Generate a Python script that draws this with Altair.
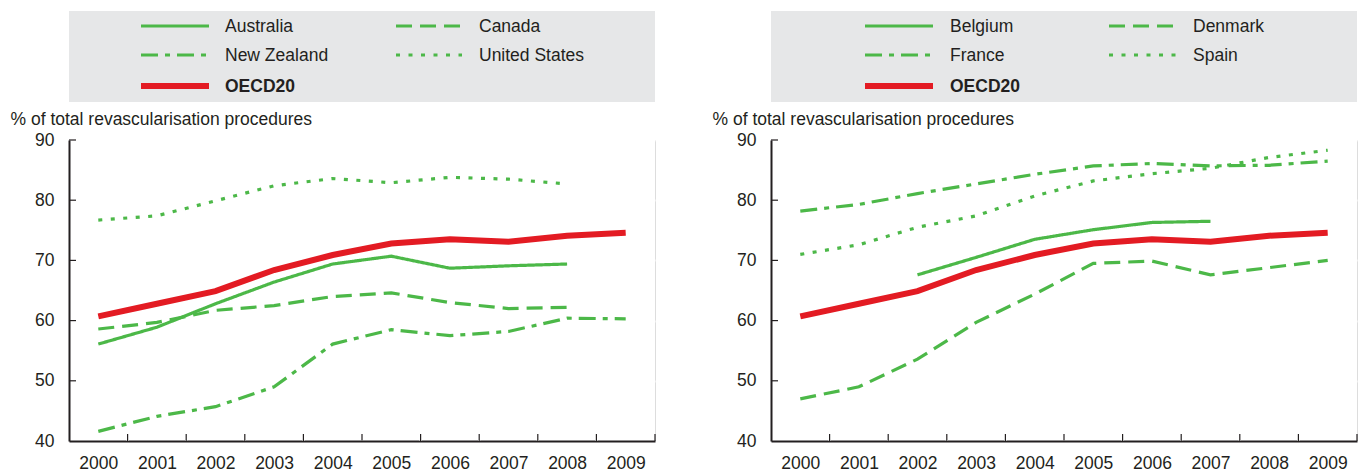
import altair as alt
import pandas as pd

years = [2000, 2001, 2002, 2003, 2004, 2005, 2006, 2007, 2008, 2009]

oecd20 = [60.7, 62.8, 64.9, 68.4, 70.9, 72.8, 73.5, 73.1, 74.1, 74.6]

# Left panel
australia = [56.1, 58.9, 62.8, 66.4, 69.4, 70.7, 68.7, 69.1, 69.4, None]
canada = [58.6, 59.7, 61.7, 62.5, 64.0, 64.6, 63.0, 62.0, 62.2, None]
new_zealand = [41.6, 44.1, 45.7, 49.0, 56.1, 58.5, 57.5, 58.2, 60.4, 60.3]
united_states = [76.7, 77.4, 79.9, 82.4, 83.6, 82.9, 83.8, 83.5, 82.7, None]

# Right panel
belgium = [None, None, 67.6, 70.5, 73.5, 75.1, 76.3, 76.5, None, None]
denmark = [47.0, 49.0, 53.6, 59.7, 64.4, 69.5, 69.9, 67.6, 68.8, 70.0]
france = [78.2, 79.3, 81.1, 82.7, 84.3, 85.7, 86.1, 85.7, 85.8, 86.5]
spain = [71.0, 72.6, 75.5, 77.4, 80.7, 83.2, 84.4, 85.3, 87.1, 88.3]

y_ticks = [40, 50, 60, 70, 80, 90]
boundaries = [2000.5, 2001.5, 2002.5, 2003.5, 2004.5, 2005.5, 2006.5, 2007.5, 2008.5, 2009.5]

GREEN = "#4cb848"
RED = "#e31b23"
BG = "#e6e7e8"
DARK = "#231f20"
FONT = "Liberation Sans"
FS = 17.5
W, H = 586, 301

STYLES = ["solid", "dashed", "dashdot", "dotted"]
DASH = {"solid": [1, 0], "dashed": [16, 8], "dashdot": [17, 7, 5, 7], "dotted": [4, 8.5]}

x_scale = alt.Scale(domain=[1999.5, 2009.5], nice=False, zero=False)
y_scale = alt.Scale(domain=[40, 90], nice=False, zero=False)
x_axis = alt.Axis(values=years, format="d", grid=False, ticks=False, title=None,
                  labelFontSize=FS, labelColor=DARK, labelPadding=13,
                  domainColor=DARK, domainWidth=2, labelFont=FONT)
y_axis = alt.Axis(values=y_ticks, grid=True, gridColor="white", gridWidth=2,
                  ticks=False, labelFontSize=FS, labelColor=DARK, labelPadding=15,
                  domainColor=DARK, domainWidth=2, labelFont=FONT,
                  title="% of total revascularisation procedures",
                  titleAngle=0, titleAlign="left", titleBaseline="alphabetic",
                  titleX=-59, titleY=-16, titleFontSize=FS, titleFontWeight="normal",
                  titleColor=DARK, titleFont=FONT)


def X(field):
    return alt.X(field, scale=x_scale, axis=x_axis)


def Y(field):
    return alt.Y(field, scale=y_scale, axis=y_axis)


def panel(series, leg_cols):
    names = [s[0] for s in series]
    rows = []
    for name, vals in series:
        for yr, v in zip(years, vals):
            if v is not None:
                rows.append({"series": name, "year": yr, "value": v})
    df = pd.DataFrame(rows)
    oecd_df = pd.DataFrame({"series": "OECD20", "year": years, "value": oecd20})

    layers = []
    # legend background
    layers.append(alt.Chart(pd.DataFrame({"a": [0]})).mark_rect(color=BG).encode(
        x=alt.value(0), x2=alt.value(W), y=alt.value(-129), y2=alt.value(-38)))
    # vertical grid at band boundaries
    layers.append(alt.Chart(pd.DataFrame({"year": boundaries[:-1]})).mark_rule(
        color="white", strokeWidth=2).encode(x=X("year:Q")))
    # inward x ticks
    layers.append(alt.Chart(pd.DataFrame({"year": boundaries})).mark_rule(
        color=DARK, strokeWidth=1.2).encode(x=X("year:Q"), y=alt.value(H), y2=alt.value(H - 7)))
    # inward y ticks
    layers.append(alt.Chart(pd.DataFrame({"value": y_ticks[1:]})).mark_rule(
        color=DARK, strokeWidth=1.2).encode(y=Y("value:Q"), x=alt.value(0), x2=alt.value(7)))
    # country lines
    layers.append(alt.Chart(df).mark_line(color=GREEN, strokeWidth=3.2).encode(
        x=X("year:Q"), y=Y("value:Q"),
        strokeDash=alt.StrokeDash("series:N", scale=alt.Scale(
            domain=names, range=[DASH[s] for s in STYLES]), legend=None),
        detail="series:N"))
    # OECD line
    layers.append(alt.Chart(oecd_df).mark_line(color=RED, strokeWidth=6).encode(
        x=X("year:Q"), y=Y("value:Q")))

    # manual legend
    row_y = [-114, -85, -54]
    entries = [(n, STYLES[i], GREEN, 3.2, "normal") for i, n in enumerate(names)]
    entries.append(("OECD20", "solid", RED, 6, "bold"))
    for i, (name, style, col, sw, fw) in enumerate(entries):
        c, r = i % 2, i // 2
        lx1, lx2, tx = leg_cols[c]
        ly = row_y[r]
        d = pd.DataFrame({"name": [name]})
        layers.append(alt.Chart(d).mark_rule(color=col, strokeWidth=sw,
                                             strokeDash=DASH[style]).encode(
            x=alt.value(lx1), x2=alt.value(lx2), y=alt.value(ly)))
        layers.append(alt.Chart(d).mark_text(align="left", baseline="alphabetic",
                                             fontSize=FS, font=FONT, fontWeight=fw,
                                             color=DARK).encode(
            x=alt.value(tx), y=alt.value(ly + 6), text="name:N"))

    return alt.layer(*layers).properties(width=W, height=H)


left = panel([("Australia", australia), ("Canada", canada),
              ("New Zealand", new_zealand), ("United States", united_states)],
             [(72, 140, 156), (327, 393, 410)])
right = panel([("Belgium", belgium), ("Denmark", denmark),
               ("France", france), ("Spain", spain)],
              [(94, 162, 179), (338, 405, 422)])

chart = alt.hconcat(left, right, spacing=54).properties(
    padding={"left": 1, "top": 2, "right": 2, "bottom": 2}
).configure_view(fill=BG, strokeWidth=0).configure(font=FONT)

chart.save("out.html", embed_options={"renderer": "svg", "actions": False})
